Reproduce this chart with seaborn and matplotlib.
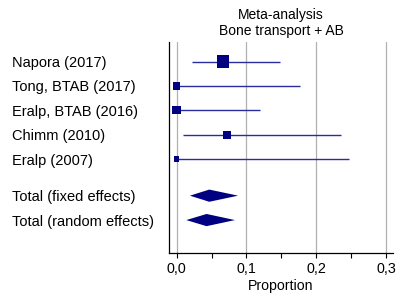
import matplotlib
matplotlib.use("Agg")
import matplotlib.pyplot as plt
import seaborn as sns
import pandas as pd
import numpy as np
from matplotlib.ticker import MultipleLocator, FuncFormatter

studies = ["Napora (2017)", "Tong, BTAB (2017)", "Eralp, BTAB (2016)", "Chimm (2010)", "Eralp (2007)"]
est = [0.0666, 0.0, 0.0, 0.0719, 0.0]
lo = [0.0214, 0.0, 0.0, 0.0086, 0.0]
hi = [0.1486, 0.177, 0.1195, 0.2357, 0.2476]
weights = [41.6, 14.2, 18.5, 18.5, 7.2]
rows = [0, 1, 2, 3, 4]

totals = ["Total (fixed effects)", "Total (random effects)"]
tot_est = [0.0467, 0.0428]
tot_lo = [0.019, 0.0138]
tot_hi = [0.088, 0.0835]
tot_rows = [5.5, 6.5]

df = pd.DataFrame({"study": studies, "est": est, "lo": lo, "hi": hi, "w": weights, "row": rows})

sns.set_style("white")
plt.rcParams["font.family"] = ["Liberation Sans", "DejaVu Sans"]
plt.rcParams.update({"text.color": "black", "axes.labelcolor": "black",
                     "xtick.color": "black", "ytick.color": "black"})

fig = plt.figure(figsize=(4.04, 2.94), dpi=100)
ax = fig.add_axes([169/404, 1 - 253/294, (393-169)/404, (253-42)/294])

navy = "#000080"
ax.set_xlim(-0.011, 0.31)
ax.set_ylim(7.85, -0.8)

ax.xaxis.set_major_locator(MultipleLocator(0.1))
ax.xaxis.set_minor_locator(MultipleLocator(0.05))
ax.xaxis.set_major_formatter(FuncFormatter(lambda v, p: f"{v:.1f}".replace(".", ",")))
ax.grid(axis="x", which="major", color="#b0b0b0", lw=0.9)
ax.set_axisbelow(True)

ax.hlines(df["row"], df["lo"], df["hi"], color="#2b2ba0", lw=1.0, zorder=2)
sns.scatterplot(data=df, x="est", y="row", size="w", sizes=(14, 82), marker="s",
                color=navy, edgecolor=navy, linewidth=0, legend=False, ax=ax, zorder=3)

h = 0.25
for r, e, l, u in zip(tot_rows, tot_est, tot_lo, tot_hi):
    ax.fill([l, e, u, e], [r, r - h, r, r + h], color=navy, lw=0, zorder=3)

ax.set_yticks(rows + tot_rows)
ax.set_yticklabels(studies + totals)
for t in ax.get_yticklabels():
    t.set_horizontalalignment("left")
ax.tick_params(axis="y", which="major", length=5 * 0.72, width=0.8, pad=(157 - 5) * 0.72, labelsize=10.5)
ax.tick_params(axis="x", which="both", length=5 * 0.72, width=0.8, labelsize=10.3, bottom=True, pad=3)

for s in ["top", "right"]:
    ax.spines[s].set_visible(False)
for s in ["left", "bottom"]:
    ax.spines[s].set_color("black")
    ax.spines[s].set_linewidth(0.9)

ax.set_xlabel("Proportion", fontsize=10.2, labelpad=2)
ax.set_ylabel("")
ax.set_title("Meta-analysis\nBone transport + AB", fontsize=10, pad=5, linespacing=1.15)

fig.savefig("out.png", dpi=100)
